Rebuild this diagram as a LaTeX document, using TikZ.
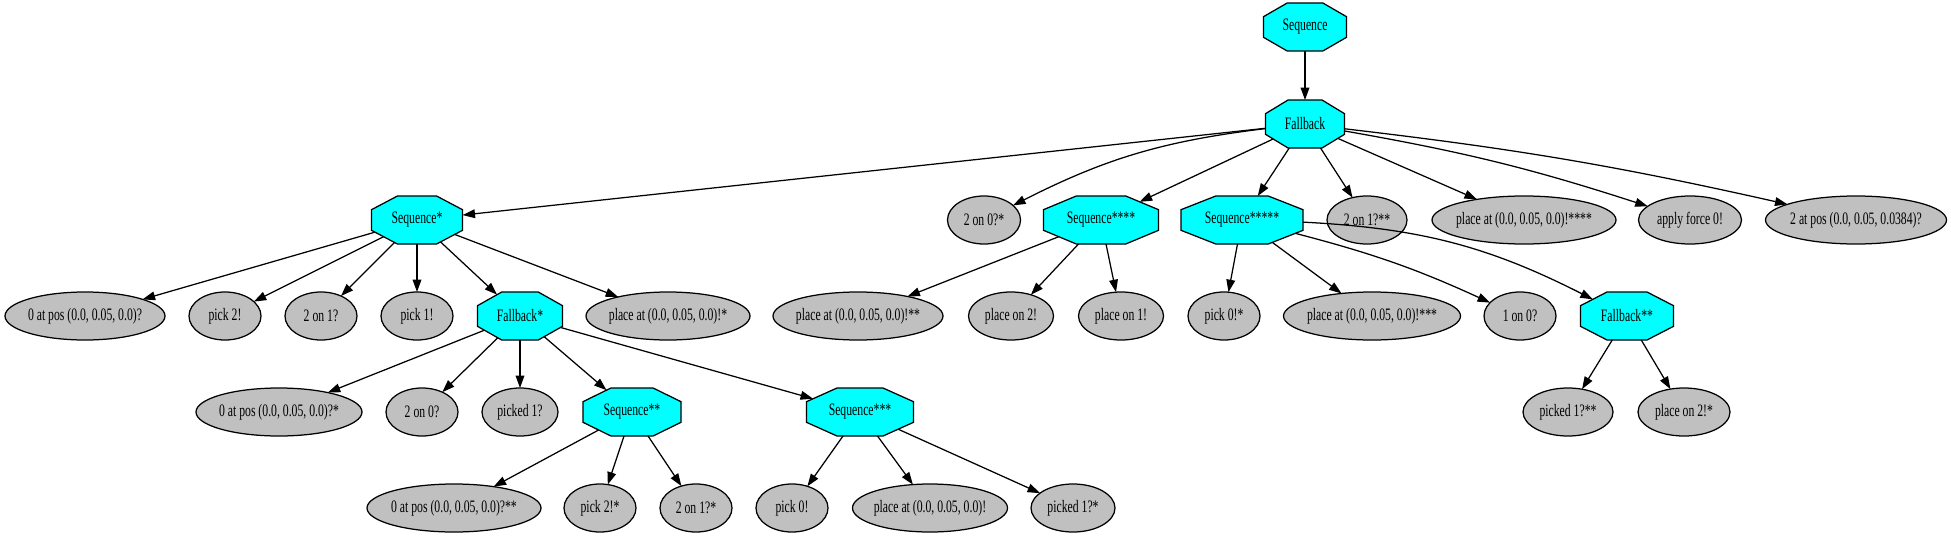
\documentclass[tikz,border=0pt]{standalone}
\usepackage{fontspec}
\setmainfont{Liberation Serif}[FakeStretch=0.67]
\usetikzlibrary{arrows.meta}
\definecolor{leafgray}{HTML}{C0C0C0}
\definecolor{octcyan}{HTML}{00FFFF}
\newcommand{\nf}{\fontsize{14}{16}\selectfont}
\makeatletter
\pgfdeclareshape{gvoct}{
  \savedanchor\halfsize{%
    \pgfmathsetlength\pgf@x{.5*\pgfkeysvalueof{/pgf/minimum width}}%
    \pgfmathsetlength\pgf@y{.5*\pgfkeysvalueof{/pgf/minimum height}}%
  }
  \anchor{center}{\pgfpointorigin}
  \anchor{north}{\halfsize\pgf@x=0pt}
  \anchor{south}{\halfsize\pgf@x=0pt\pgf@y=-\pgf@y}
  \backgroundpath{%
    \halfsize
    \edef\gvA{\the\pgf@x}\edef\gvB{\the\pgf@y}%
    \pgfmathsetlengthmacro\gva{0.43*\gvA}%
    \pgfmathsetlengthmacro\gvb{0.43*\gvB}%
    \pgfpathmoveto{\pgfqpoint{\gva}{\gvB}}%
    \pgfpathlineto{\pgfqpoint{\gvA}{\gvb}}%
    \pgfpathlineto{\pgfqpoint{\gvA}{-\gvb}}%
    \pgfpathlineto{\pgfqpoint{\gva}{-\gvB}}%
    \pgfpathlineto{\pgfqpoint{-\gva}{-\gvB}}%
    \pgfpathlineto{\pgfqpoint{-\gvA}{-\gvb}}%
    \pgfpathlineto{\pgfqpoint{-\gvA}{\gvb}}%
    \pgfpathlineto{\pgfqpoint{-\gva}{\gvB}}%
    \pgfpathclose
  }
  \anchorborder{%
    \edef\gvpx{\the\pgf@x}\edef\gvpy{\the\pgf@y}%
    \halfsize
    \edef\gvA{\the\pgf@x}\edef\gvB{\the\pgf@y}%
    \pgfmathsetmacro\gvp{abs(\gvpx)/\gvA}%
    \pgfmathsetmacro\gvq{abs(\gvpy)/\gvB}%
    \pgfmathsetmacro\gvm{max(\gvp,\gvq,(\gvp+\gvq)/1.43)}%
    \pgfmathsetlength\pgf@x{\gvpx/\gvm}%
    \pgfmathsetlength\pgf@y{\gvpy/\gvm}%
  }
}
\pgfdeclareshape{gvell}{
  \savedanchor\halfsize{%
    \pgfmathsetlength\pgf@x{.5*\pgfkeysvalueof{/pgf/minimum width}}%
    \pgfmathsetlength\pgf@y{.5*\pgfkeysvalueof{/pgf/minimum height}}%
  }
  \anchor{center}{\pgfpointorigin}
  \backgroundpath{%
    \halfsize
    \edef\gvA{\the\pgf@x}\edef\gvB{\the\pgf@y}%
    \pgfmathsetlengthmacro\gva{0.55228*\gvA}%
    \pgfmathsetlengthmacro\gvb{0.55228*\gvB}%
    \pgfpathmoveto{\pgfqpoint{\gvA}{0pt}}%
    \pgfpathcurveto{\pgfqpoint{\gvA}{\gvb}}{\pgfqpoint{\gva}{\gvB}}{\pgfqpoint{0pt}{\gvB}}%
    \pgfpathcurveto{\pgfqpoint{-\gva}{\gvB}}{\pgfqpoint{-\gvA}{\gvb}}{\pgfqpoint{-\gvA}{0pt}}%
    \pgfpathcurveto{\pgfqpoint{-\gvA}{-\gvb}}{\pgfqpoint{-\gva}{-\gvB}}{\pgfqpoint{0pt}{-\gvB}}%
    \pgfpathcurveto{\pgfqpoint{\gva}{-\gvB}}{\pgfqpoint{\gvA}{-\gvb}}{\pgfqpoint{\gvA}{0pt}}%
    \pgfpathclose
  }
  \anchorborder{%
    \edef\gvpx{\the\pgf@x}\edef\gvpy{\the\pgf@y}%
    \halfsize
    \edef\gvA{\the\pgf@x}\edef\gvB{\the\pgf@y}%
    \pgfmathsetmacro\gvp{\gvpx/\gvA}%
    \pgfmathsetmacro\gvq{\gvpy/\gvB}%
    \pgfmathsetmacro\gvm{sqrt(\gvp*\gvp+\gvq*\gvq)}%
    \pgfmathsetlength\pgf@x{\gvpx/\gvm}%
    \pgfmathsetlength\pgf@y{\gvpy/\gvm}%
  }
}
\makeatother
\newcommand{\gv}[4]{\node[#1] (#2) at (#3) {}; \node[txt] (#2t) at (#2.center) {#4};}
\begin{document}
\begin{tikzpicture}[x=0.8pt,y=-0.8pt,
  leaf/.style={gvell, draw, fill=leafgray, line width=1pt, outer sep=0pt,
    minimum width=#1*0.8pt, minimum height=38.4pt},
  leaf/.default=72,
  oct/.style={gvoct, draw, fill=octcyan, line width=1pt, outer sep=0pt,
    minimum width=#1*0.8pt, minimum height=38.4pt},
  txt/.style={font=\nf, inner sep=0pt},
  edge/.style={line width=1pt, -{Triangle[length=10pt,width=7pt]}}]
\useasboundingbox (0,0) rectangle (1951,539);
% rank 0 and 1
\gv{oct=83}{s0}{1305,27}{Sequence}
\gv{oct=79}{f0}{1305,124}{Fallback}
% rank 2
\gv{oct=91}{s1}{417,220}{Sequence*}
\gv{leaf=73}{a20s}{984,220}{2 on 0?*}
\gv{oct=115}{s4}{1101,220}{Sequence****}
\gv{oct=122}{s5}{1242,220}{Sequence*****}
\gv{leaf=80}{a21ss}{1367,220}{2 on 1?**}
\gv{leaf=184}{p4}{1524,220}{place at (0.0, 0.05, 0.0)!****}
\gv{leaf=103}{af}{1690,220}{apply force 0!}
\gv{leaf=181}{ap}{1856,220}{2 at pos (0.0, 0.05, 0.0384)?}
% rank 3
\gv{leaf=160}{q1}{85,316}{0 at pos (0.0, 0.05, 0.0)?}
\gv{leaf}{k2}{225,316}{pick 2!}
\gv{leaf}{o21}{321,316}{2 on 1?}
\gv{leaf}{k1}{417,316}{pick 1!}
\gv{oct=85}{f1}{520,316}{Fallback*}
\gv{leaf=164}{p1}{668,316}{place at (0.0, 0.05, 0.0)!*}
\gv{leaf=170}{p2}{858,316}{place at (0.0, 0.05, 0.0)!**}
\gv{leaf=85}{po2}{1011,316}{place on 2!}
\gv{leaf=85}{po1}{1121,316}{place on 1!}
\gv{leaf}{k0s}{1224,316}{pick 0!*}
\gv{leaf=177}{p3}{1372,316}{place at (0.0, 0.05, 0.0)!***}
\gv{leaf}{o10}{1520,316}{1 on 0?}
\gv{oct=93}{f2}{1627,316}{Fallback**}
% rank 4
\gv{leaf=166}{q2}{279,412}{0 at pos (0.0, 0.05, 0.0)?*}
\gv{leaf}{o20}{422,412}{2 on 0?}
\gv{leaf=76}{pk1}{520,412}{picked 1?}
\gv{oct=98}{s2}{632,412}{Sequence**}
\gv{oct=107}{s3}{860,412}{Sequence***}
\gv{leaf=90}{pk1ss}{1568,412}{picked 1?**}
\gv{leaf=92}{po2s}{1684,412}{place on 2!*}
% rank 5
\gv{leaf=174}{q3}{454,508}{0 at pos (0.0, 0.05, 0.0)?**}
\gv{leaf}{k2s}{600,508}{pick 2!*}
\gv{leaf}{o21s}{696,508}{2 on 1?*}
\gv{leaf}{k0}{792,508}{pick 0!}
\gv{leaf=155}{p0}{930,508}{place at (0.0, 0.05, 0.0)!}
\gv{leaf=84}{pk1s}{1073,508}{picked 1?*}
% edges
\draw[edge] (s0) -- (f0);
\draw[edge] (f0) -- (s1);
\draw[edge] (f0) to[bend right=10] (a20s);
\draw[edge] (f0) -- (s4);
\draw[edge] (f0) -- (s5);
\draw[edge] (f0) -- (a21ss);
\draw[edge] (f0) -- (p4);
\draw[edge] (f0) to[bend left=4] (af);
\draw[edge] (f0) to[bend left=3] (ap);
\draw[edge] (s1) -- (q1);
\draw[edge] (s1) -- (k2);
\draw[edge] (s1) -- (o21);
\draw[edge] (s1) -- (k1);
\draw[edge] (s1) -- (f1);
\draw[edge] (s1) -- (p1);
\draw[edge] (f1) -- (q2);
\draw[edge] (f1) -- (o20);
\draw[edge] (f1) -- (pk1);
\draw[edge] (f1) -- (s2);
\draw[edge] (f1) -- (s3);
\draw[edge] (s2) -- (q3);
\draw[edge] (s2) -- (k2s);
\draw[edge] (s2) -- (o21s);
\draw[edge] (s3) -- (k0);
\draw[edge] (s3) -- (p0);
\draw[edge] (s3) -- (pk1s);
\draw[edge] (s4) -- (p2);
\draw[edge] (s4) -- (po2);
\draw[edge] (s4) -- (po1);
\draw[edge] (s5) -- (k0s);
\draw[edge] (s5) -- (p3);
\draw[edge] (s5) to[bend left=5] (o10);
\draw[edge] (s5) to[bend left=12] (f2);
\draw[edge] (f2) -- (pk1ss);
\draw[edge] (f2) -- (po2s);
\end{tikzpicture}
\end{document}
